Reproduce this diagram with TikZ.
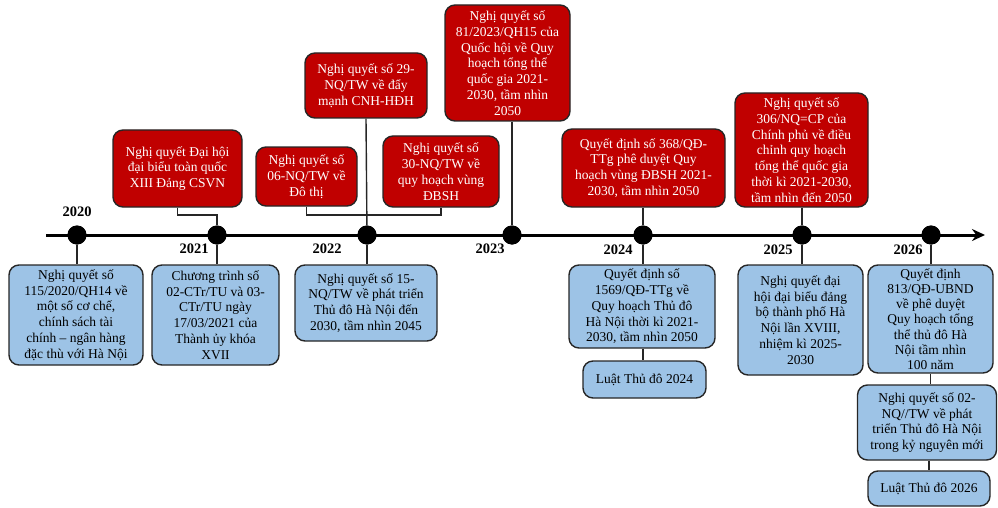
\documentclass[tikz,border=0pt]{standalone}
\usepackage{fontspec}
\setmainfont{Liberation Serif}
\usetikzlibrary{arrows.meta}
\definecolor{myred}{HTML}{C00000}
\definecolor{myblue}{HTML}{9DC3E6}
\begin{document}
\begin{tikzpicture}[x=1pt,y=-1pt,
  box/.style={draw=black!85, line width=1.4pt, rounded corners=10pt, align=center, inner sep=0pt, font=\fontsize{13.5}{15.8}\selectfont},
  redbox/.style={box, fill=myred, text=white},
  bluebox/.style={box, fill=myblue, text=black},
  dot/.style={circle, fill=black, minimum size=19pt, inner sep=0pt},
  year/.style={font=\fontsize{14.5}{16}\selectfont\bfseries},
  link/.style={line width=1.4pt, draw=black!85}]
\useasboundingbox (0,0) rectangle (998,508);

% timeline
\coordinate (tl0) at (46,235);
\coordinate (tl1) at (985,235);
\draw[line width=3pt, -{Stealth[length=13pt,width=12pt]}] (tl0) -- (tl1);

\node[dot] (d2020) at (77,235) {};
\node[dot] (d2021) at (217,235) {};
\node[dot] (d2022) at (367,235) {};
\node[dot] (d2023) at (512,235) {};
\node[dot] (d2024) at (643,235) {};
\node[dot] (d2025) at (802,235) {};
\node[dot] (d2026) at (931,235) {};

\node[year] (y2020) at (77,212) {2020};
\node[year] (y2021) at (194,249) {2021};
\node[year] (y2022) at (327,249) {2022};
\node[year] (y2023) at (490,249) {2023};
\node[year] (y2024) at (618,250) {2024};
\node[year] (y2025) at (778,250) {2025};
\node[year] (y2026) at (908,250) {2026};

% red boxes
\node[redbox, minimum width=129pt, minimum height=77pt] (r1) at (177.5,168.5)
  {Nghị quyết Đại hội\\đại biểu toàn quốc\\XIII Đảng CSVN};
\node[redbox, minimum width=122pt, minimum height=65pt] (r2) at (366,85.5)
  {Nghị quyết số 29-\\NQ/TW về đẩy\\mạnh CNH-HĐH};
\node[redbox, minimum width=101pt, minimum height=59pt] (r3) at (306.5,176.5)
  {Nghị quyết số\\06-NQ/TW về\\Đô thị};
\node[redbox, minimum width=116pt, minimum height=71pt] (r4) at (441,171.5)
  {Nghị quyết số\\30-NQ/TW về\\quy hoạch vùng\\ĐBSH};
\node[redbox, minimum width=125pt, minimum height=116pt] (r5) at (507.5,63)
  {Nghị quyết số\\81/2023/QH15 của\\Quốc hội về Quy\\hoạch tổng thể\\quốc gia 2021-\\2030, tầm nhìn\\2050};
\node[redbox, minimum width=163pt, minimum height=78pt] (r6) at (643.5,168)
  {Quyết định số 368/QĐ-\\TTg phê duyệt Quy\\hoạch vùng ĐBSH 2021-\\2030, tầm nhìn 2050};
\node[redbox, minimum width=133pt, minimum height=114pt] (r7) at (801.5,150)
  {Nghị quyết số\\306/NQ=CP của\\Chính phủ về điều\\chỉnh quy hoạch\\tổng thể quốc gia\\thời kì 2021-2030,\\tầm nhìn đến 2050};

% blue boxes
\node[bluebox, minimum width=134pt, minimum height=100pt] (b1) at (76,315)
  {Nghị quyết số\\115/2020/QH14 về\\một số cơ chế,\\chính sách tài\\chính – ngân hàng\\đặc thù với Hà Nội};
\node[bluebox, minimum width=127pt, minimum height=100pt] (b2) at (215.5,315)
  {Chương trình số\\02-CTr/TU và 03-\\CTr/TU ngày\\17/03/2021 của\\Thành ủy khóa\\XVII};
\node[bluebox, minimum width=142pt, minimum height=76pt] (b3) at (366,303)
  {Nghị quyết số 15-\\NQ/TW về phát triển\\Thủ đô Hà Nội đến\\2030, tầm nhìn 2045};
\node[bluebox, minimum width=146pt, minimum height=83pt] (b4) at (642,306.5)
  {Quyết định số\\1569/QĐ-TTg về\\Quy hoạch Thủ đô\\Hà Nội thời kì 2021-\\2030, tầm nhìn 2050};
\node[bluebox, minimum width=123pt, minimum height=37pt] (b5) at (644.5,379.5)
  {Luật Thủ đô 2024};
\node[bluebox, minimum width=125pt, minimum height=110pt] (b6) at (800.5,320)
  {Nghị quyết đại\\hội đại biểu đảng\\bộ thành phố Hà\\Nội lần XVIII,\\nhiệm kì 2025-\\2030};
\node[bluebox, minimum width=125pt, minimum height=108pt, font=\fontsize{13.5}{15.2}\selectfont] (b7) at (930.5,319)
  {Quyết định\\813/QĐ-UBND\\về phê duyệt\\Quy hoạch tổng\\thể thủ đô Hà\\Nội tầm nhìn\\100 năm};
\node[bluebox, minimum width=139pt, minimum height=75pt] (b8) at (927,422.5)
  {Nghị quyết số 02-\\NQ//TW về phát\\triển Thủ đô Hà Nội\\trong kỷ nguyên mới};
\node[bluebox, minimum width=122pt, minimum height=35pt] (b9) at (929,488.5)
  {Luật Thủ đô 2026};

% connectors (top)
\coordinate (k1) at (217,215);
\draw[link] (r1.south) |- (k1) -- (d2021);
\coordinate (k2) at (367,215);
\draw[link] (r3.south) |- (k2) -| (r4.south);
\draw[link] (r2.south) -- (d2022);
\draw[link] (d2023 |- r5.south) -- (d2023);
\draw[link] (d2024 |- r6.south) -- (d2024);
\draw[link] (d2025 |- r7.south) -- (d2025);

% connectors (bottom)
\draw[link] (d2020) -- (d2020 |- b1.north);
\draw[link] (d2021) -- (d2021 |- b2.north);
\draw[link] (d2022) -- (d2022 |- b3.north);
\draw[link] (d2024) -- (d2024 |- b4.north);
\draw[link] (d2024 |- b4.south) -- (d2024 |- b5.north);
\draw[link] (d2025) -- (d2025 |- b6.north);
\draw[link] (d2026) -- (d2026 |- b7.north);
\draw[link] (b8.north -| b7.south) -- (b7.south);
\draw[link] (b8.south -| b9.north) -- (b9.north);

% redraw dots over lines
\foreach \d in {d2020,d2021,d2022,d2023,d2024,d2025,d2026}
  \fill (\d) circle (9.5pt);
\end{tikzpicture}
\end{document}
